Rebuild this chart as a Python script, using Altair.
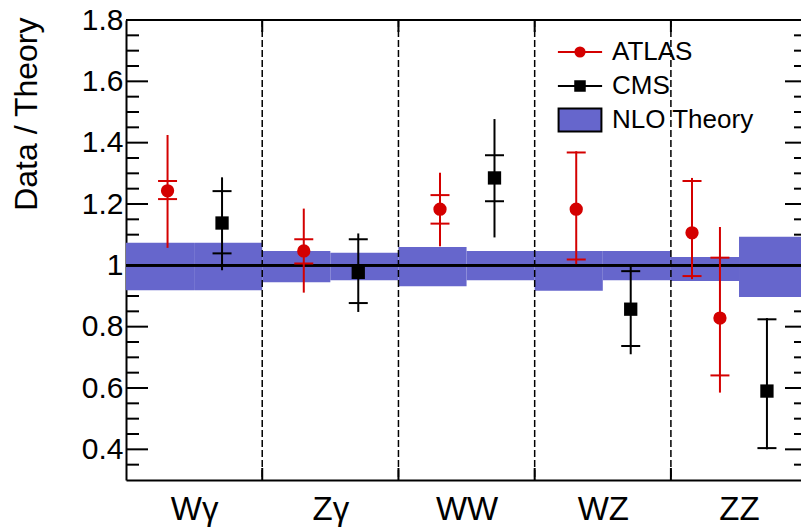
import json
import altair as alt
import pandas as pd

# ---------------------------------------------------------------- data
CATEGORIES = ["Wγ", "Zγ", "WW", "WZ", "ZZ"]
SERIES = ["ATLAS", "CMS", "NLO Theory"]

# NLO theory uncertainty band, one entry per half-bin (ATLAS half, CMS half)
THEORY_LOW = [0.919, 0.919, 0.945, 0.951, 0.932, 0.951, 0.917, 0.951, 0.949, 0.897]
THEORY_HIGH = [1.074, 1.074, 1.047, 1.041, 1.060, 1.047, 1.047, 1.047, 1.027, 1.093]

# ATLAS measurements (bin index, position inside the bin, ratio, stat and total errors)
ATLAS_BIN = [0, 1, 2, 3, 4, 4]
ATLAS_OFFSET = [0.305, 0.305, 0.305, 0.305, 0.155, 0.36]
ATLAS_VALUE = [1.243, 1.047, 1.183, 1.183, 1.106, 0.828]
ATLAS_STAT_LOW = [1.216, 1.006, 1.136, 1.019, 0.965, 0.641]
ATLAS_STAT_HIGH = [1.275, 1.085, 1.229, 1.368, 1.275, 1.025]
ATLAS_TOT_LOW = [1.057, 0.911, 1.062, 1.004, 0.955, 0.585]
ATLAS_TOT_HIGH = [1.425, 1.185, 1.302, 1.372, 1.285, 1.125]

# CMS measurements
CMS_BIN = [0, 1, 2, 3, 4]
CMS_OFFSET = [0.705, 0.705, 0.705, 0.705, 0.705]
CMS_VALUE = [1.138, 0.977, 1.285, 0.857, 0.590]
CMS_STAT_LOW = [1.039, 0.877, 1.209, 0.737, 0.404]
CMS_STAT_HIGH = [1.242, 1.085, 1.359, 0.981, 0.824]
CMS_TOT_LOW = [0.984, 0.848, 1.091, 0.710, 0.400]
CMS_TOT_HIGH = [1.287, 1.104, 1.477, 0.998, 0.828]

Y_MAJOR = [0.4, 0.6, 0.8, 1.0, 1.2, 1.4, 1.6, 1.8]
Y_MINOR = [0.35, 0.45, 0.5, 0.55, 0.65, 0.7, 0.75, 0.85, 0.9, 0.95, 1.05, 1.1,
           1.15, 1.25, 1.3, 1.35, 1.45, 1.5, 1.55, 1.65, 1.7, 1.75]
BIN_EDGES = [1, 2, 3, 4]

# ---------------------------------------------------------------- style
FONT = "Liberation Sans"
RED = "#d40000"
BAND = "#6666cc"
W, H = 675, 460

ATLAS_SYMBOL = "M-1.3,0H1.3M-0.27,0A0.27,0.27,0,1,1,0.27,0A0.27,0.27,0,1,1,-0.27,0Z"
CMS_SYMBOL = "M-1.3,0H1.3M-0.28,-0.28H0.28V0.28H-0.28Z"
NLO_SYMBOL = "M-1.26,-0.68H1.26V0.68H-1.26Z"

# ---------------------------------------------------------------- tables
band = pd.DataFrame({
    "x0": [i + h * 0.5 for i in range(len(CATEGORIES)) for h in (0, 1)],
    "x1": [i + h * 0.5 + 0.5 for i in range(len(CATEGORIES)) for h in (0, 1)],
    "lo": THEORY_LOW,
    "hi": THEORY_HIGH,
})


def measurements(bins, offsets, vals, slo, shi, tlo, thi):
    return pd.DataFrame({
        "x": [b + o for b, o in zip(bins, offsets)],
        "v": vals, "slo": slo, "shi": shi, "tlo": tlo, "thi": thi,
    })


atlas = measurements(ATLAS_BIN, ATLAS_OFFSET, ATLAS_VALUE, ATLAS_STAT_LOW,
                     ATLAS_STAT_HIGH, ATLAS_TOT_LOW, ATLAS_TOT_HIGH)
cms = measurements(CMS_BIN, CMS_OFFSET, CMS_VALUE, CMS_STAT_LOW,
                   CMS_STAT_HIGH, CMS_TOT_LOW, CMS_TOT_HIGH)

major = pd.DataFrame({"v": Y_MAJOR})
minor = pd.DataFrame({"v": Y_MINOR})
edges = pd.DataFrame({"b": BIN_EDGES})

xscale = alt.Scale(domain=[0, 4.955], nice=False, zero=False)
yscale = alt.Scale(domain=[0.3, 1.8], nice=False, zero=False)

label_expr = json.dumps(CATEGORIES, ensure_ascii=False) + "[floor(datum.value)]"

# the same axis definitions are shared by every layer so they merge into one
y_axis = alt.Axis(
    values=Y_MAJOR, format="~g", ticks=False, domain=True, domainColor="black",
    domainWidth=2, grid=False, labelFont=FONT, labelFontSize=30, labelColor="black",
    labelPadding=3, title="Data / Theory", titleFont=FONT, titleFontSize=32,
    titleFontWeight="normal", titleColor="black", titleAngle=270, titleAlign="right",
    titleBaseline="alphabetic", titleX=-90, titleY=-3,
)
x_axis = alt.Axis(
    values=[0.5, 1.5, 2.5, 3.5, 4.5], labelExpr=label_expr, ticks=False, domain=True,
    domainColor="black", domainWidth=2, grid=False, labelFont=FONT, labelFontSize=33,
    labelColor="black", labelBaseline="alphabetic", labelPadding=39, title=None,
)


def X(field):
    return alt.X(field, scale=xscale, axis=x_axis)


def Y(field):
    return alt.Y(field, scale=yscale, axis=y_axis)


# ---------------------------------------------------------------- frame and ticks
def rule(df):
    return alt.Chart(df).mark_rule(color="black", strokeWidth=2)


tick_major_l = rule(major).encode(y=Y("v:Q"), x=alt.value(0), x2=alt.value(22))
tick_major_r = rule(major).encode(y=Y("v:Q"), x=alt.value(W - 16), x2=alt.value(W))
tick_minor_l = rule(minor).encode(y=Y("v:Q"), x=alt.value(0), x2=alt.value(13))
tick_minor_r = rule(minor).encode(y=Y("v:Q"), x=alt.value(W - 7), x2=alt.value(W))

theory = alt.Chart(band).mark_rect(color=BAND, clip=True).encode(
    x=X("x0:Q"), x2="x1:Q", y=Y("lo:Q"), y2="hi:Q")

unity = rule(band).encode(y=alt.datum(1.0, scale=yscale, axis=y_axis))

separators = alt.Chart(edges).mark_rule(
    color="black", strokeWidth=1.5, strokeDash=[7, 3]).encode(x=X("b:Q"))
edge_ticks_bottom = rule(edges).encode(x=X("b:Q"), y=alt.value(H), y2=alt.value(H - 12))
edge_ticks_top = rule(edges).encode(x=X("b:Q"), y=alt.value(0), y2=alt.value(12))
top_frame = rule(edges).encode(x=alt.value(0), x2=alt.value(W), y=alt.value(0))


# ---------------------------------------------------------------- measurements
def series_layers(df, color, shape):
    err = alt.Chart(df).mark_rule(color=color, strokeWidth=2).encode(
        x=X("x:Q"), y=Y("tlo:Q"), y2="thi:Q")
    caps = alt.Chart(df).transform_fold(["slo", "shi"], as_=["kind", "cap"]).mark_point(
        shape="M-1,0H1", size=361, strokeWidth=2, color=color, opacity=1).encode(
        x=X("x:Q"), y=Y("cap:Q"))
    marker = alt.Chart(df).mark_point(
        shape=shape, size=177, filled=True, color=color, opacity=1).encode(
        x=X("x:Q"), y=Y("v:Q"))
    return [err, caps, marker]


# ---------------------------------------------------------------- legend
legend_props = dict(
    title=None, orient="none", legendX=436, legendY=14, labelFont=FONT,
    labelFontSize=26, labelColor="black", symbolStrokeWidth=2, symbolOpacity=1,
    symbolSize=1156, rowPadding=3, labelOffset=14, padding=0,
)
legend_layer = alt.Chart(pd.DataFrame({"series": SERIES})).mark_point(
    filled=True, opacity=0, size=1156).encode(
    x=alt.value(0), y=alt.value(0),
    shape=alt.Shape("series:N", scale=alt.Scale(
        domain=SERIES, range=[ATLAS_SYMBOL, CMS_SYMBOL, NLO_SYMBOL]),
        legend=alt.Legend(**legend_props)),
    fill=alt.Fill("series:N", scale=alt.Scale(
        domain=SERIES, range=[RED, "black", BAND]), legend=alt.Legend(**legend_props)),
    stroke=alt.Stroke("series:N", scale=alt.Scale(
        domain=SERIES, range=[RED, "black", "black"]), legend=alt.Legend(**legend_props)),
)

chart = alt.layer(
    tick_major_l, tick_major_r, tick_minor_l, tick_minor_r,
    theory, unity, separators, edge_ticks_bottom, edge_ticks_top, top_frame,
    *series_layers(atlas, RED, "circle"),
    *series_layers(cms, "black", "square"),
    legend_layer,
).properties(
    width=W, height=H,
    autosize=alt.AutoSizeParams(type="none"),
    padding={"left": 126, "top": 20, "right": 0, "bottom": 49},
    background="white",
).configure_view(stroke=None)

chart.save("out.html", embed_options={"renderer": "svg", "actions": False})
